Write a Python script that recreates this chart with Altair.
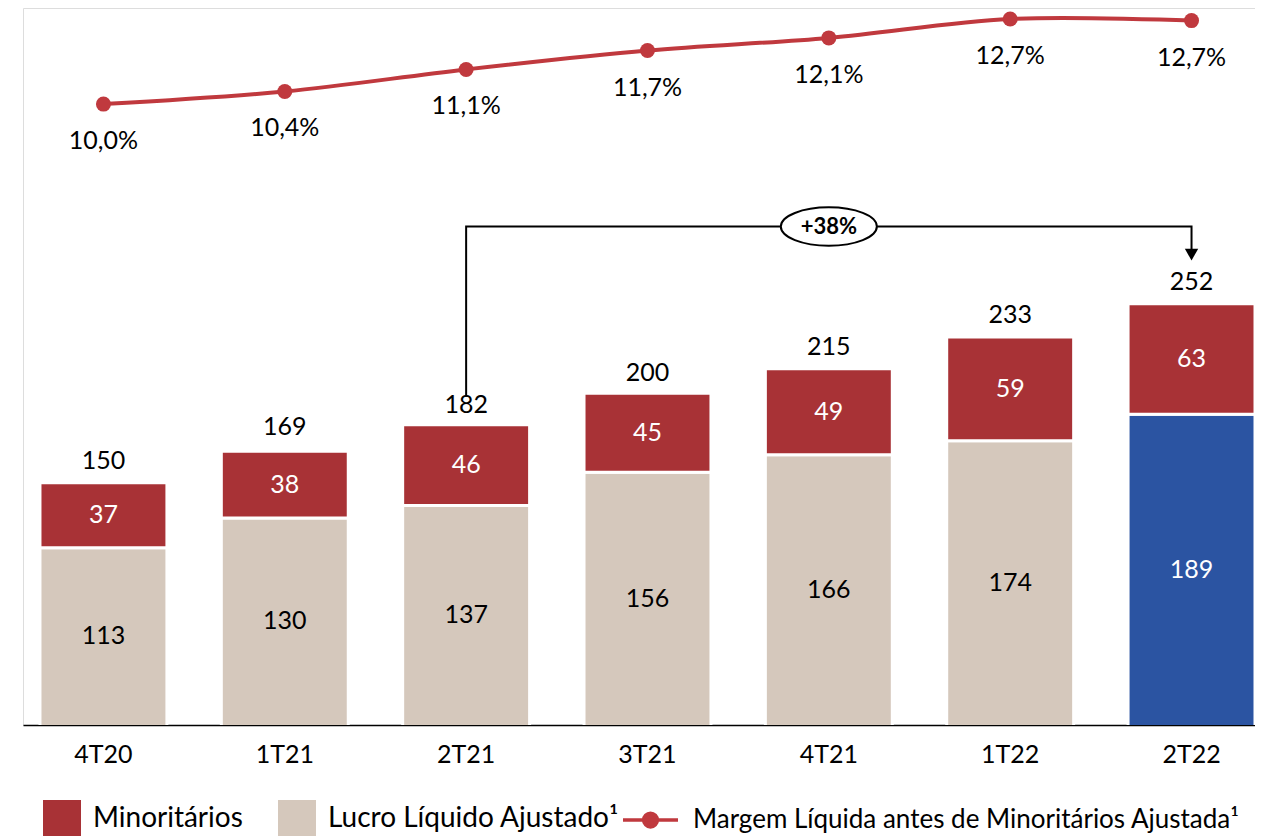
import altair as alt
import pandas as pd

# ---- data ----
quarters = ["4T20", "1T21", "2T21", "3T21", "4T21", "1T22", "2T22"]
lucro = [113, 130, 137, 156, 166, 174, 189]
minoritarios = [37, 38, 46, 45, 49, 59, 63]
totais = [150, 169, 182, 200, 215, 233, 252]
margem = [10.0, 10.4, 11.1, 11.7, 12.1, 12.7, 12.65]
margem_labels = ["10,0%", "10,4%", "11,1%", "11,7%", "12,1%", "12,7%", "12,7%"]
growth_label = "+38%"
growth_from, growth_to, growth_mid = "2T21", "2T22", "4T21"

S_MIN = "Minoritários"
S_LUC = "Lucro Líquido Ajustado¹"
S_ATU = "Lucro 2T22"
S_MAR = "Margem Líquida antes de Minoritários Ajustada¹"

# ---- style ----
RED = "#A83236"
BEIGE = "#D5C8BC"
BLUE = "#2B54A2"
LINE = "#C0393E"
FONT = "Lato"

Y_MIN, Y_MAX = 12, 420.5          # bar axis (cut at 12 like the original)
M_MIN, M_MAX = -9.71, 13.05       # margin line scale

PLOT_W, PLOT_H = 1232, 717
PAD_L, PAD_B = 15, 111

rows = []
for q, l, m in zip(quarters, lucro, minoritarios):
    rows.append(dict(quarter=q, serie=S_ATU if q == "2T22" else S_LUC, value=l, ord=0))
    rows.append(dict(quarter=q, serie=S_MIN, value=m, ord=1))
bars_df = pd.DataFrame(rows)

lab_df = pd.DataFrame(dict(quarter=quarters, lucro=lucro, minor=minoritarios,
                           total=totais, margem=margem, mlabel=margem_labels))
lab_df["y_luc"] = (Y_MIN + lab_df["lucro"]) / 2
lab_df["y_min"] = lab_df["lucro"] + lab_df["minor"] / 2
lab_df["serie"] = S_MAR

top = max(totais)
i_from = quarters.index(growth_from)
bracket_level = top + 44
bracket_df = pd.DataFrame({
    "quarter": [growth_from, growth_from, growth_to, growth_to],
    "v": [totais[i_from] + 17, bracket_level, bracket_level, top + 31],
    "step": [0, 1, 2, 3],
})
arrow_df = pd.DataFrame({"quarter": [growth_to], "v": [top + 28]})
badge_df = pd.DataFrame({"quarter": [growth_mid], "v": [bracket_level], "label": [growth_label]})

xscale = alt.Scale(paddingInner=0.3, paddingOuter=0.0468, align=1)
x = alt.X("quarter:N", sort=quarters, scale=xscale,
          axis=alt.Axis(title=None, labelAngle=0, ticks=False, labelFontSize=25,
                        labelPadding=29, labelBaseline="middle", labelColor="black",
                        domainColor="black", domainWidth=1.5, labelFont=FONT, grid=False))
yscale = alt.Scale(domain=[Y_MIN, Y_MAX], zero=False, nice=False)
mscale = alt.Scale(domain=[M_MIN, M_MAX], zero=False, nice=False)

bars = alt.Chart(bars_df).mark_bar(clip=True, stroke="white", strokeWidth=3).encode(
    x=x,
    y=alt.Y("value:Q", stack="zero", scale=yscale, axis=None),
    color=alt.Color("serie:N",
                    scale=alt.Scale(domain=[S_MIN, S_LUC, S_ATU], range=[RED, BEIGE, BLUE]),
                    legend=alt.Legend(values=[S_MIN, S_LUC], orient="none", legendX=20, legendY=792,
                                      direction="horizontal", title=None, symbolType="square",
                                      symbolSize=1444, symbolStrokeWidth=0, labelFontSize=28,
                                      labelFont=FONT, labelColor="black", labelOffset=12,
                                      columnPadding=35, labelLimit=1000, padding=0)),
    order=alt.Order("ord:Q"),
)

txt = dict(font=FONT, fontSize=25, baseline="middle", align="center")
tot_text = alt.Chart(lab_df).mark_text(dy=-22, color="black", **txt).encode(
    x=x, y=alt.Y("total:Q", scale=yscale, axis=None), text="total:Q")
luc_text = alt.Chart(lab_df).mark_text(**txt).encode(
    x=x, y=alt.Y("y_luc:Q", scale=yscale, axis=None), text="lucro:Q",
    color=alt.condition(alt.datum.quarter == "2T22", alt.value("white"), alt.value("black")))
min_text = alt.Chart(lab_df).mark_text(color="white", **txt).encode(
    x=x, y=alt.Y("y_min:Q", scale=yscale, axis=None), text="minor:Q")

bracket = alt.Chart(bracket_df).mark_line(color="black", strokeWidth=2).encode(
    x=x, y=alt.Y("v:Q", scale=yscale, axis=None), order="step:Q")
arrow = alt.Chart(arrow_df).mark_point(shape="triangle-down", filled=True, size=180,
                                        color="black", opacity=1).encode(
    x=x, y=alt.Y("v:Q", scale=yscale, axis=None))
ELLIPSE = ("M -1 0 C -1 -0.2209 -0.5523 -0.4 0 -0.4 C 0.5523 -0.4 1 -0.2209 1 0 "
           "C 1 0.2209 0.5523 0.4 0 0.4 C -0.5523 0.4 -1 0.2209 -1 0 Z")
badge = alt.Chart(badge_df).mark_point(shape=ELLIPSE, size=96 * 96, filled=True, fill="white",
                                        stroke="black", strokeWidth=2, opacity=1).encode(
    x=x, y=alt.Y("v:Q", scale=yscale, axis=None))
badge_text = alt.Chart(badge_df).mark_text(font=FONT, fontSize=22, fontWeight="bold",
                                           color="black", baseline="middle").encode(
    x=x, y=alt.Y("v:Q", scale=yscale, axis=None), text="label:N")

bar_group = alt.layer(bars, tot_text, luc_text, min_text, bracket, arrow, badge, badge_text)

LEG_LINE = "M -1 0 L 1 0 M -0.25 0 C -0.25 -0.138 -0.138 -0.25 0 -0.25 C 0.138 -0.25 0.25 -0.138 0.25 0 C 0.25 0.138 0.138 0.25 0 0.25 C -0.138 0.25 -0.25 0.138 -0.25 0 Z"
line = alt.Chart(lab_df).mark_line(interpolate="catmull-rom", strokeWidth=4).encode(
    x=x, y=alt.Y("margem:Q", scale=mscale, axis=None),
    stroke=alt.Stroke("serie:N", scale=alt.Scale(domain=[S_MAR], range=[LINE]),
                      legend=alt.Legend(orient="none", legendX=598, legendY=782.5, title=None,
                                        symbolType=LEG_LINE, symbolSize=3025, symbolStrokeWidth=3.5,
                                        symbolFillColor=LINE, labelFontSize=26, labelFont=FONT,
                                        labelColor="black", labelOffset=13, labelLimit=1000,
                                        padding=0)),
)
points = alt.Chart(lab_df).mark_point(filled=True, size=225, color=LINE, opacity=1).encode(
    x=x, y=alt.Y("margem:Q", scale=mscale, axis=None))
m_text = alt.Chart(lab_df).mark_text(dy=37, color="black", **txt).encode(
    x=x, y=alt.Y("margem:Q", scale=mscale, axis=None), text="mlabel:N")
line_group = alt.layer(line, points, m_text)

chart = alt.layer(bar_group, line_group).resolve_scale(y="independent").properties(
    width=PLOT_W, height=PLOT_H,
    autosize=alt.AutoSizeParams(type="none"),
    padding={"left": PAD_L, "top": 0, "right": 0, "bottom": PAD_B},
).configure_view(stroke=None).configure(font=FONT)

chart.save("out.html", embed_options={"renderer": "svg", "actions": False})
